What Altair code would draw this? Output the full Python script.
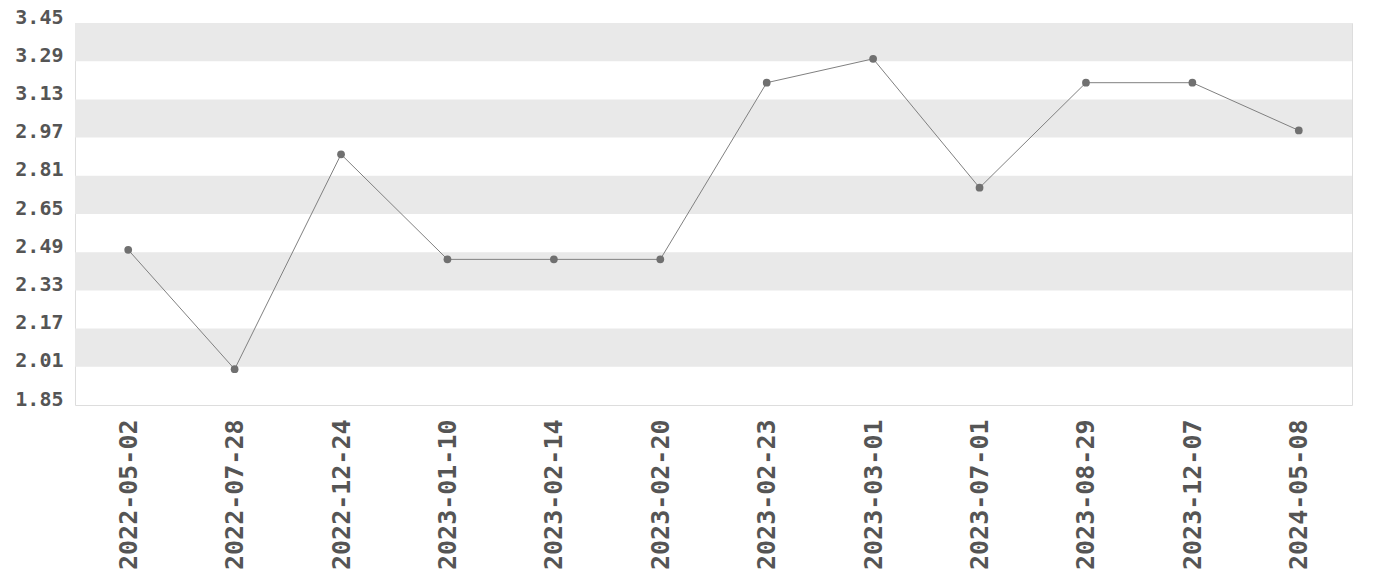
import altair as alt
import pandas as pd

dates = ["2022-05-02", "2022-07-28", "2022-12-24", "2023-01-10", "2023-02-14", "2023-02-20",
         "2023-02-23", "2023-03-01", "2023-07-01", "2023-08-29", "2023-12-07", "2024-05-08"]
values = [2.50, 2.00, 2.90, 2.46, 2.46, 2.46, 3.20, 3.30, 2.76, 3.20, 3.20, 3.00]
y_ticks = [1.85, 2.01, 2.17, 2.33, 2.49, 2.65, 2.81, 2.97, 3.13, 3.29, 3.45]

df = pd.DataFrame({"date": dates, "value": values})
bands = pd.DataFrame({"lo": y_ticks[:-1], "hi": y_ticks[1:]})
bands = bands.iloc[1::2]  # grey bands: 2.01-2.17, 2.33-2.49, ...

FONT = "DejaVu Sans Mono"
ydom = [y_ticks[0], y_ticks[-1]]

yscale = alt.Scale(domain=ydom, nice=False, zero=False)
yaxis = alt.Axis(values=y_ticks, format=".2f", labelFont=FONT, labelFontWeight="bold",
                 labelFontSize=20, labelColor="#555555", labelPadding=12,
                 labelBaseline="alphabetic", labelOverlap=False, labelBound=False,
                 ticks=False, domain=False, grid=False)

band_layer = alt.Chart(bands).mark_rect(color="#e9e9e9").encode(
    y=alt.Y("lo:Q", scale=yscale, axis=yaxis, title=None),
    y2="hi:Q",
    x=alt.value(0),
    x2=alt.value(1277),
)

xenc = alt.X("date:N", sort=dates, title=None,
             scale=alt.Scale(padding=0.5),
             axis=alt.Axis(labelAngle=-90, labelFont=FONT, labelFontWeight="bold",
                           labelFontSize=25, labelColor="#555555", labelPadding=14,
                           labelOverlap=False,
                           ticks=False, domain=False, grid=False))
yenc = alt.Y("value:Q", scale=yscale, title=None, axis=yaxis)

line = alt.Chart(df).mark_line(color="#808080", strokeWidth=1).encode(x=xenc, y=yenc)
pts = alt.Chart(df).mark_circle(color="#707070", size=60, opacity=1).encode(x=xenc, y=yenc)

chart = alt.layer(band_layer, line, pts).properties(
    width=1277, height=382,
    autosize=alt.AutoSizeParams(type="none"),
    padding={"left": 67, "top": 15, "right": 20, "bottom": 170},
).configure_view(stroke="#dddddd", strokeWidth=1).configure(background="white")

chart.save("out.html", embed_options={"renderer": "svg", "actions": False})
